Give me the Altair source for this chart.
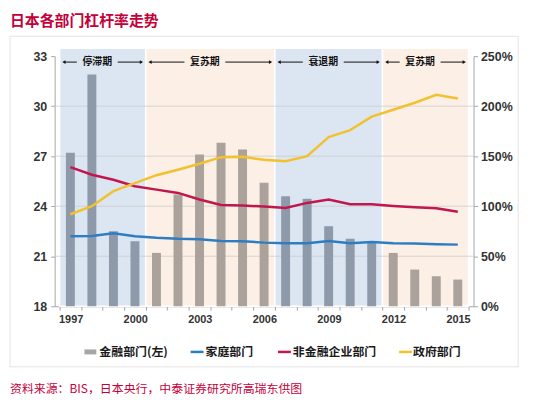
import altair as alt
import pandas as pd

# ---------------- data ----------------
years = list(range(1997, 2016))
financial = [27.2, 31.9, 22.5, 21.9, 21.2, 24.7, 27.1, 27.8, 27.4, 25.4,
             24.6, 24.45, 22.8, 22.05, 21.9, 21.2, 20.2, 19.8, 19.6]
household = [70, 70.2, 73, 70, 68.5, 67.5, 67, 65.3, 65, 63.6,
             63, 63, 65.3, 63, 64.3, 63, 62.7, 62, 61.6]
corporate = [139, 131.5, 126.5, 120, 116.6, 113.3, 106.7, 101.3, 100.7, 99.7,
             98.3, 103.3, 106.7, 102, 102, 100.3, 99, 98, 94.4]
government = [92, 100, 115, 123, 131, 136.5, 142.5, 149, 149.4, 146.4,
              145, 150, 169, 176, 189.5, 196.4, 203.4, 211.3, 207.6]

period_names = ["停滞期", "复苏期", "衰退期", "复苏期"]
period_start = [1997, 2001, 2007, 2012]
period_end = [2000, 2006, 2011, 2015]
period_kind = ["down", "up", "down", "up"]

series_names = ["金融部门(左)", "家庭部门", "非金融企业部门", "政府部门"]
line_colors = ["#2e7dc2", "#c0174f", "#f2c12e"]

left_ticks = [18, 21, 24, 27, 30, 33]
right_ticks = [0, 50, 100, 150, 200, 250]

title_text = "日本各部门杠杆率走势"
source_text = "资料来源：BIS，日本央行，中泰证券研究所高瑞东供图"

# ---------------- tables ----------------
phase = [next(k for s, e, k in zip(period_start, period_end, period_kind) if s <= y <= e)
         for y in years]
bars_df = pd.DataFrame({"year": years, "financial": financial, "phase": phase})
periods_df = pd.DataFrame({"name": period_names, "start": period_start,
                           "end": period_end, "kind": period_kind})
lines_df = pd.concat([
    pd.DataFrame({"year": years, "value": v, "series": n})
    for n, v in zip(series_names[1:], [household, corporate, government])
])
grid_df = pd.DataFrame({"v": left_ticks[1:-1]})

W, H = 422, 252
FONT = "Liberation Sans"
CJK = "Noto Sans CJK SC"
half = W / len(years) / 2

xscale = alt.Scale(domain=[years[0] - 0.5, years[-1] + 0.5], nice=False, zero=False)
tick_vals = [y - 0.5 for y in years] + [years[-1] + 0.5]
xaxis = alt.Axis(values=tick_vals, title=None, grid=False,
                 labelExpr="((datum.value + 0.5 - 1997) % 3 == 0 && datum.value < 2015.5) ? toString(datum.value + 0.5) : ''",
                 labelOffset=half, tickSize=4, labelPadding=3, labelFontSize=11,
                 labelFontWeight="bold", labelColor="#333333", domainColor="#a6a6a6",
                 tickColor="#a6a6a6", labelFont=FONT)

# shading
shade = alt.Chart(periods_df).transform_calculate(
    x0="datum.start - 0.5", x1="datum.end + 0.5"
).mark_rect(stroke="white", strokeWidth=1.5).encode(
    x=alt.X("x0:Q", scale=xscale, axis=xaxis),
    x2="x1:Q",
    y=alt.value(-8), y2=alt.value(H),
    color=alt.condition("datum.kind == 'down'", alt.value("#dce6f2"), alt.value("#fbefe6")),
)

# period arrows and labels
pbase = alt.Chart(periods_df).transform_calculate(
    c="(datum.start + datum.end) / 2 - 0.25",
    la0="datum.start - 0.3", la1="(datum.start + datum.end) / 2 - 1.2",
    ra0="(datum.start + datum.end) / 2 + 0.7", ra1="datum.end + 0.3",
)
plabel = pbase.mark_text(fontSize=10, fontWeight="bold", font=CJK, color="#111111",
                         baseline="middle").encode(
    x=alt.X("c:Q", scale=xscale, axis=xaxis), y=alt.value(6), text="name:N")
larrow = pbase.mark_rule(color="#111111", strokeWidth=1).encode(
    x=alt.X("la0:Q", scale=xscale, axis=xaxis), x2="la1:Q", y=alt.value(6))
rarrow = pbase.mark_rule(color="#111111", strokeWidth=1).encode(
    x=alt.X("ra0:Q", scale=xscale, axis=xaxis), x2="ra1:Q", y=alt.value(6))
lhead = pbase.mark_point(shape="triangle-left", filled=True, size=14, color="#111111",
                         opacity=1).encode(
    x=alt.X("la0:Q", scale=xscale, axis=xaxis), y=alt.value(6))
rhead = pbase.mark_point(shape="triangle-right", filled=True, size=14, color="#111111",
                         opacity=1).encode(
    x=alt.X("ra1:Q", scale=xscale, axis=xaxis), y=alt.value(6))

# left group: grid + bars
lscale = alt.Scale(domain=[left_ticks[0], left_ticks[-1]], nice=False, zero=False)
laxis = alt.Axis(values=left_ticks, orient="left", title=None, grid=False, tickSize=4,
                 labelPadding=4, labelFontSize=12.5, labelFontWeight="bold",
                 labelColor="#333333", domainColor="#a6a6a6", tickColor="#a6a6a6",
                 labelFont=FONT)
grid = alt.Chart(grid_df).mark_rule(color="#c8c8c8", strokeWidth=1, opacity=0.7).encode(
    y=alt.Y("v:Q", scale=lscale, axis=laxis))
bars = alt.Chart(bars_df).mark_bar(size=9).encode(
    x=alt.X("year:Q", scale=xscale, axis=xaxis),
    y=alt.Y("financial:Q", scale=lscale, axis=laxis),
    y2=alt.datum(left_ticks[0]),
    color=alt.condition("datum.phase == 'down'", alt.value("#8e9aaa"), alt.value("#aaa29b")),
)
left = alt.layer(grid, bars)

# right group: lines
raxis = alt.Axis(values=right_ticks, orient="right", title=None, grid=False, tickSize=4,
                 labelPadding=3, labelExpr="datum.value + '%'", labelFontSize=12.5,
                 labelFontWeight="bold", labelColor="#333333", domainColor="#a6a6a6",
                 tickColor="#a6a6a6", labelFont=FONT)
lines = alt.Chart(lines_df).mark_line(strokeWidth=2.5).encode(
    x=alt.X("year:Q", scale=xscale, axis=xaxis),
    y=alt.Y("value:Q", scale=alt.Scale(domain=[0, 250], nice=False), axis=raxis),
    color=alt.Color("series:N", scale=alt.Scale(domain=series_names[1:], range=line_colors),
                    legend=None),
)

one = alt.Data(values=[{}])

# manual legend
legend_layers = []
leg_y = 298
legend_layers.append(alt.Chart(one).mark_rect(color="#a6a6a6").encode(
    x=alt.value(30), x2=alt.value(42), y=alt.value(leg_y - 2.5), y2=alt.value(leg_y + 2.5)))
for i, (lx, tx) in enumerate([(137, 152), (225, 240), (347, 361)]):
    legend_layers.append(alt.Chart(one).mark_rule(color=line_colors[i], strokeWidth=2.5).encode(
        x=alt.value(lx), x2=alt.value(lx + 13), y=alt.value(leg_y)))
for name, tx in zip(series_names, [45, 152, 240, 361]):
    legend_layers.append(alt.Chart(one).mark_text(
        align="left", baseline="middle", fontSize=12, fontWeight="bold", font=CJK,
        color="#1a1a1a").encode(x=alt.value(tx), y=alt.value(leg_y), text=alt.value(name)))

# frame box, title, source
frame = alt.Chart(one).mark_rect(fill="transparent", stroke="#e3e3e3", strokeWidth=1).encode(
    x=alt.value(-45), x2=alt.value(467), y=alt.value(-20), y2=alt.value(313))
title = alt.Chart(one).mark_text(align="left", baseline="middle", fontSize=15,
                                 fontWeight="bold", font=CJK, color="#c4003a").encode(
    x=alt.value(-45), y=alt.value(-35), text=alt.value(title_text))
source = alt.Chart(one).mark_text(align="left", baseline="middle", fontSize=12,
                                  font=CJK, color="#c4003a").encode(
    x=alt.value(-45), y=alt.value(335), text=alt.value(source_text))

chart = alt.layer(
    frame, shade, left, lines, larrow, rarrow, lhead, rhead, plabel, *legend_layers,
    title, source
).resolve_scale(y="independent").properties(
    width=W, height=H,
    padding={"left": 47, "top": 47, "right": 70, "bottom": 100},
    autosize="none",
).configure_view(stroke=None)

chart.save("out.html", embed_options={"renderer": "svg", "actions": False})
